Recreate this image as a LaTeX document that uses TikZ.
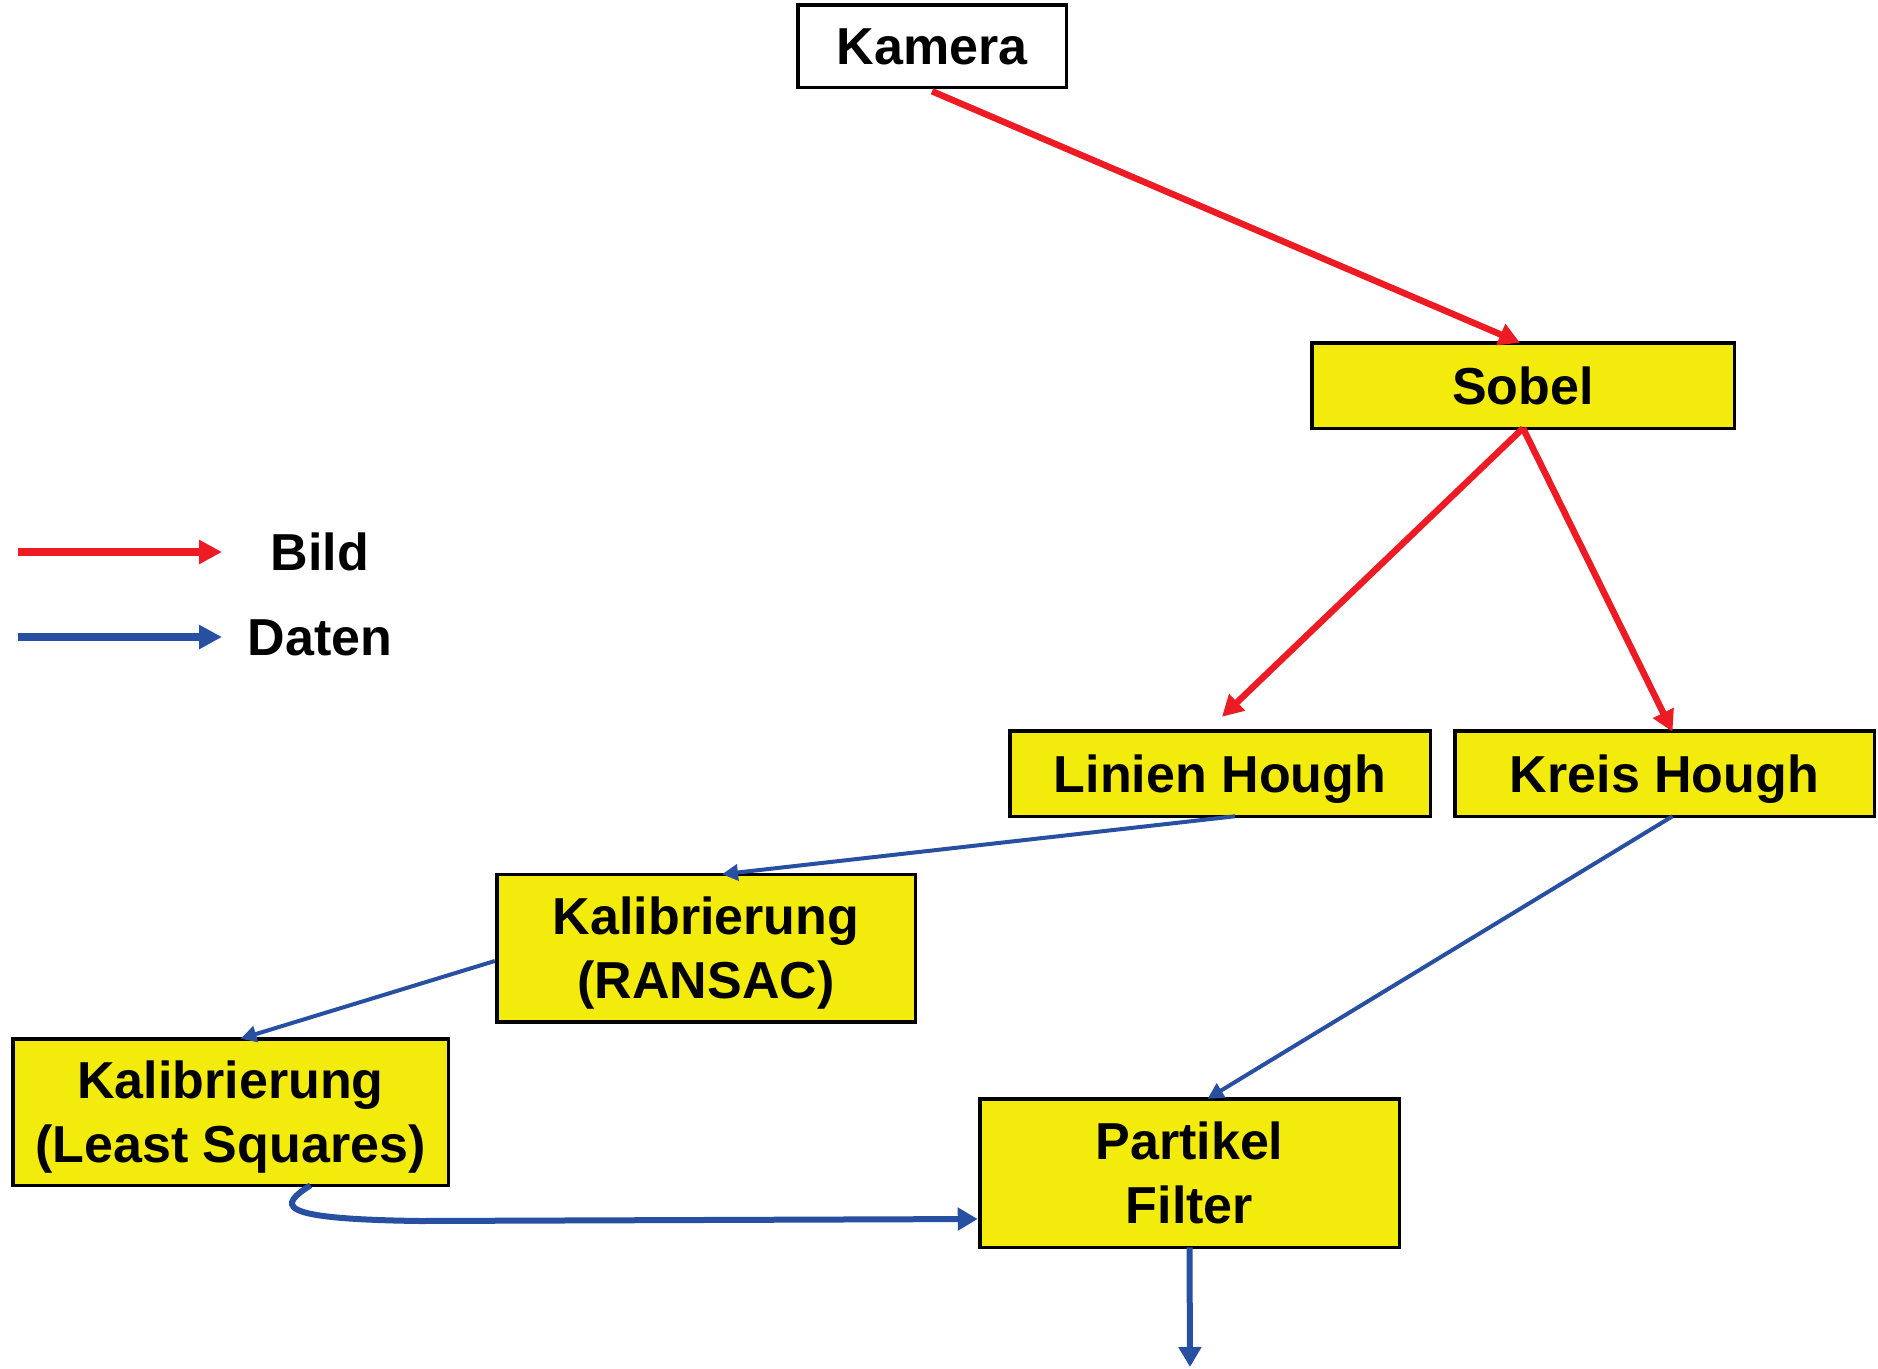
\documentclass[tikz,border=0pt]{standalone}
\usepackage{fontspec}
\setmainfont{Liberation Sans}
\usetikzlibrary{arrows.meta,calc}
\definecolor{boxyellow}{RGB}{243,235,12}
\definecolor{imgred}{RGB}{237,28,36}
\definecolor{datblue}{RGB}{40,80,162}
\tikzset{
  box/.style={draw=black,line width=3.5pt,fill=boxyellow,inner sep=0pt,outer sep=0pt,align=center,
    font=\fontsize{52}{64}\selectfont\bfseries,text height=37.2pt,text depth=0pt},
  twoline/.style={text height=101.2pt,text depth=0pt},
  whitebox/.style={box,fill=white},
  bildarrow/.style={draw=imgred,line width=6.5pt,-{Triangle[length=21pt,width=22pt]}},
  datarrow/.style={draw=datblue,line width=4pt,-{Triangle[length=16pt,width=16pt]}},
  datarrowthick/.style={draw=datblue,line width=6pt,-{Triangle[length=20pt,width=22pt]}},
  legbild/.style={draw=imgred,line width=8pt,-{Triangle[length=23pt,width=23pt]}},
  legdat/.style={draw=datblue,line width=8pt,-{Triangle[length=23pt,width=23pt]}},
  legtext/.style={font=\fontsize{52}{62}\selectfont\bfseries,inner sep=0pt,text height=37.2pt,text depth=0pt}
}
\begin{document}
\begin{tikzpicture}[x=1pt,y=-1pt]
\useasboundingbox (0,0) rectangle (1878,1368);
% nodes
\node[whitebox,minimum width=268.5pt,minimum height=82.5pt] (kamera) at (932,46) {Kamera};
\node[box,minimum width=422.5pt,minimum height=85.5pt] (sobel) at (1523,385.5) {Sobel};
\node[box,minimum width=420.5pt,minimum height=85.5pt] (linien) at (1220,773.5) {Linien Hough};
\node[box,minimum width=419.5pt,minimum height=85.5pt] (kreis) at (1664.5,773.5) {Kreis Hough};
\node[box,twoline,minimum width=418.5pt,minimum height=147.5pt] (ransac) at (706,948) {Kalibrierung\\(RANSAC)};
\node[box,twoline,minimum width=435.5pt,minimum height=146.5pt] (ls) at (230.5,1112) {Kalibrierung\\(Least Squares)};
\node[box,twoline,minimum width=419.5pt,minimum height=148.5pt] (partikel) at (1189.5,1173) {Partikel\\Filter};
% legend
\coordinate (lba) at (18,552);
\coordinate (lbb) at (222,552);
\coordinate (lda) at (18,637);
\coordinate (ldb) at (222,637);
\node[legtext] (bild) at (320,552) {Bild};
\node[legtext] (daten) at (320,637) {Daten};
\draw[legbild] (lba) -- (lbb);
\draw[legdat] (lda) -- (ldb);
% red (Bild) connectors
\draw[bildarrow] ($(kamera.south)+(0,4)$) -- ($(sobel.north)+(-3,0)$);
\draw[bildarrow] (sobel.south) -- ($(linien.north)+(2,-14)$);
\draw[bildarrow] (sobel.south) -- ($(kreis.north)+(8,1)$);
% blue (Daten) connectors
\draw[datarrow] ($(linien.south)+(15,0)$) -- ($(ransac.north)+(16,0)$);
\draw[datarrow] ($(ransac.west)+(-2,13)$) -- ($(ls.north)+(10,0)$);
\draw[datarrow] ($(kreis.south)+(8,0)$) -- ($(partikel.north)+(18,0)$);
\draw[datarrowthick] ($(ls.south)+(80,0)$) .. controls (280,1205) and (270,1219) .. (420,1221) -- ($(partikel.west)+(-2,46)$);
\coordinate (out) at (1190,1367);
\draw[datarrowthick] (partikel.south) -- (out);
\end{tikzpicture}
\end{document}
